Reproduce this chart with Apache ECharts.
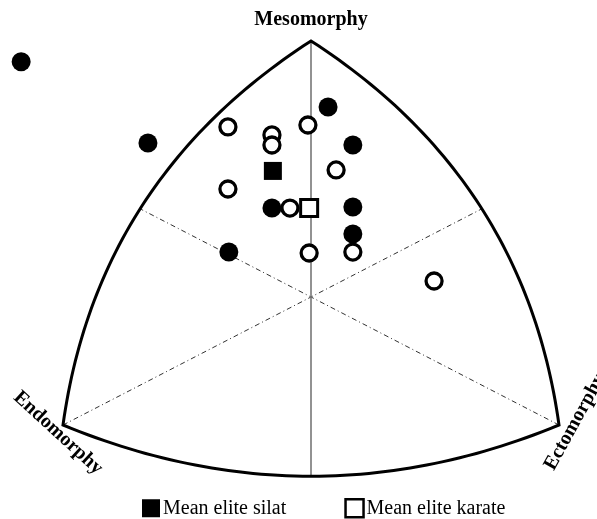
<!DOCTYPE html>
<html><head><meta charset="utf-8">
<script src="https://cdn.jsdelivr.net/npm/echarts@6/dist/echarts.min.js"></script>
<style>html,body{margin:0;padding:0;background:#fff}#c{width:597px;height:519px}</style>
</head><body><div id="c"></div>
<script>
// Somatochart coordinates: X = ecto - endo, Y = 2*meso - (endo + ecto)
const silatPoints = [[-9.35,14.7],[-5.26,9.63],[0.55,11.88],[1.35,9.5],[-1.26,5.56],[1.35,5.63],[1.35,3.94],[-2.65,2.81]];
const karatePoints = [[-2.68,10.63],[-1.26,10.13],[-1.26,9.5],[-0.1,10.75],[0.81,7.94],[-2.68,6.75],[-0.68,5.56],[-0.06,2.75],[1.35,2.81],[3.97,1.0]];
const silatMean = [[-1.23,7.88]];
const karateMean = [[-0.06,5.56]];
// outline: corners and arc midpoints (somatochart units)
const cornerEndo = [-8,-8], cornerMeso = [0,16], cornerEcto = [8,-8];
const arcMidLeft = [-5.45,5.7], arcMidRight = [5.45,5.7], arcMidBottom = [0,-11.2];
const guideEnds = [[cornerEndo,[5.48,5.48]],[cornerEcto,[-5.48,5.48]]];
const axisNames = ['Mesomorphy','Endomorphy','Ectomorphy'];
const seriesNames = ['Mean elite silat','Mean elite karate'];

const chart = echarts.init(document.getElementById('c'), null, {renderer:'canvas'});
const FONT = 'Liberation Serif';

function quadPts(p0, m, p2, n) {
  const cx = 2*m[0] - (p0[0]+p2[0])/2, cy = 2*m[1] - (p0[1]+p2[1])/2;
  const out = [];
  for (let i = 0; i <= n; i++) {
    const t = i/n, a = (1-t)*(1-t), b = 2*(1-t)*t, c = t*t;
    out.push([a*p0[0]+b*cx+c*p2[0], a*p0[1]+b*cy+c*p2[1]]);
  }
  return out;
}

function renderFrame(params, api) {
  const E = api.coord(cornerEndo), M = api.coord(cornerMeso), C = api.coord(cornerEcto);
  const mL = api.coord(arcMidLeft), mR = api.coord(arcMidRight), mB = api.coord(arcMidBottom);
  let pts = [];
  pts = pts.concat(quadPts(E, mL, M, 60));
  pts = pts.concat(quadPts(M, mR, C, 60).slice(1));
  pts = pts.concat(quadPts(C, mB, E, 60).slice(1, -1));
  const children = [];
  guideEnds.forEach(function (g) {
    const a = api.coord(g[0]), b = api.coord(g[1]);
    children.push({type:'line', shape:{x1:a[0],y1:a[1],x2:b[0],y2:b[1]},
      style:{stroke:'#333', lineWidth:1, lineDash:[5,3,1,3], fill:null}});
  });
  children.push({type:'line', shape:{x1:M[0],y1:M[1],x2:mB[0],y2:mB[1]},
    style:{stroke:'#777', lineWidth:1.6, fill:null}});
  children.push({type:'polygon', shape:{points:pts},
    style:{stroke:'#000', lineWidth:3, fill:null, lineJoin:'miter', miterLimit:20}});
  return {type:'group', children: children};
}

chart.setOption({
  animation: false,
  backgroundColor: '#fff',
  grid: {left:1, right:7, top:9, bottom:30},
  xAxis: {type:'value', min:-10, max:9, show:false},
  yAxis: {type:'value', min:-12, max:18, show:false},
  legend: {
    left: 137, top: 493, itemWidth: 18, itemHeight: 18, itemGap: 58,
    textStyle: {fontFamily: FONT, fontSize: 20, color:'#000', padding:[0,0,0,-2]},
    data: [
      {name: seriesNames[0], icon:'rect', itemStyle:{color:'#000', borderWidth:0, opacity:1}},
      {name: seriesNames[1], icon:'rect', itemStyle:{color:'#fff', borderColor:'#000', borderWidth:2.5, opacity:1}}
    ]
  },
  graphic: [
    {type:'text', x:311, y:20, style:{text:axisNames[0], font:'bold 20px "Liberation Serif"', fill:'#000', textAlign:'center', textVerticalAlign:'middle'}},
    {type:'text', x:58, y:433, rotation:-0.74, style:{text:axisNames[1], font:'bold 20px "Liberation Serif"', fill:'#000', textAlign:'center', textVerticalAlign:'middle'}},
    {type:'text', x:575, y:422, rotation:1.065, style:{text:axisNames[2], font:'bold 20px "Liberation Serif"', fill:'#000', textAlign:'center', textVerticalAlign:'middle'}}
  ],
  series: [
    {type:'custom', renderItem: renderFrame, data:[[0,0]], silent:true, z:1, clip:false},
    {type:'scatter', name:'Silat', data: silatPoints, symbol:'circle', symbolSize:19,
      itemStyle:{color:'#000', opacity:1}, z:3},
    {type:'scatter', name:'Karate', data: karatePoints, symbol:'circle', symbolSize:16,
      itemStyle:{color:'#fff', borderColor:'#000', borderWidth:3.3, opacity:1}, z:4},
    {type:'scatter', name: seriesNames[0], data: silatMean, symbol:'rect', symbolSize:18,
      itemStyle:{color:'#000', opacity:1}, z:5},
    {type:'scatter', name: seriesNames[1], data: karateMean, symbol:'rect', symbolSize:17,
      itemStyle:{color:'#fff', borderColor:'#000', borderWidth:3, opacity:1}, z:5}
  ]
});
</script>
</body></html>
